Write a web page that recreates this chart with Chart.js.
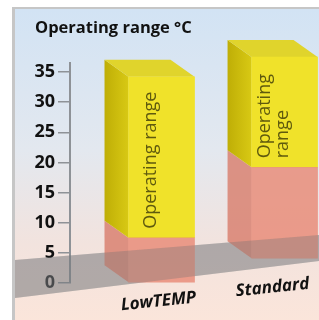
<!DOCTYPE html>
<html>
<head>
<meta charset="utf-8">
<script src="https://cdn.jsdelivr.net/npm/chart.js@4.4.1/dist/chart.umd.min.js"></script>
<style>
  html, body { margin: 0; padding: 0; background: #fff; overflow: hidden; }
  #frame {
    position: absolute; left: 12px; top: 7px; width: 307px; height: 313px;
    border-top: 2px solid #c6c6c6; border-left: 3px solid #c6c6c6;
    background: linear-gradient(to bottom, #d2e3f4 0%, #e3e8ef 45%, #f2e3de 75%, #fbe5da 100%);
  }
  #wrap { position: absolute; left: 0; top: 0; width: 319px; height: 320px; }
</style>
</head>
<body>
<div id="frame"></div>
<div id="wrap"><canvas id="chart" width="319" height="320"></canvas></div>
<script>
// values (°C)
const categories = ["LowTEMP", "Standard"];
const coldStart = [0, 4.1];
const rangeStart = [7.5, 19.2];
const rangeEnd = [34.2, 37.5];
const barText = [["Operating range"], ["Operating", "range"]];
const yTicks = [0, 5, 10, 15, 20, 25, 30, 35];

// 3d look
const dx = -24, dy = -17;
const labelShift = [-3, -12];

function face(ctx, pts, fill) {
  ctx.beginPath();
  ctx.moveTo(pts[0][0], pts[0][1]);
  for (let i = 1; i < pts.length; i++) ctx.lineTo(pts[i][0], pts[i][1]);
  ctx.closePath();
  ctx.fillStyle = fill;
  ctx.fill();
}

function floorEdges(chart) {
  const y0 = chart.scales.y.getPixelForValue(0);
  const x1 = 15, x2 = 319;
  return {
    x1, x2,
    top1: y0 - 23, top2: y0 - 48,
    bot1: y0 + 15, bot2: y0 - 22,
    bottomAt(x) { return this.bot1 + (this.bot2 - this.bot1) * (x - x1) / (x2 - x1); }
  };
}

function drawFloor(chart, color) {
  const f = floorEdges(chart);
  face(chart.ctx, [[f.x1, f.top1], [f.x2, f.top2], [f.x2, f.bot2], [f.x1, f.bot1]], color);
}

const boxPlugin = {
  id: "box3d",
  beforeDatasetsDraw(chart) {
    const ctx = chart.ctx;
    ctx.save();
    drawFloor(chart, "rgba(118,122,126,0.36)");

    chart.data.datasets.forEach((ds, di) => {
      chart.getDatasetMeta(di).data.forEach((bar) => {
        const p = bar.getProps(["x", "y", "base", "width"], true);
        const left = p.x - p.width / 2, right = p.x + p.width / 2;
        let side = ds.sideColor;
        if (Array.isArray(side)) {
          side = ctx.createLinearGradient(left + dx, 0, left, 0);
          side.addColorStop(0, ds.sideColor[0]);
          side.addColorStop(1, ds.sideColor[1]);
        }
        face(ctx, [[left, p.y], [left + dx, p.y + dy], [left + dx, p.base + dy], [left, p.base]], side);
        if (ds.topColor) {
          face(ctx, [[left, p.y], [right, p.y], [right + dx, p.y + dy], [left + dx, p.y + dy]], ds.topColor);
        }
      });
    });
    ctx.restore();
  },
  afterDatasetsDraw(chart) {
    const ctx = chart.ctx;
    const f = floorEdges(chart);
    ctx.save();
    drawFloor(chart, "rgba(118,122,126,0.3)");

    // text on the yellow boxes
    const meta = chart.getDatasetMeta(1);
    ctx.font = "18px 'Open Sans'";
    ctx.fillStyle = "#5f5a0e";
    ctx.textAlign = "left";
    ctx.textBaseline = "middle";
    meta.data.forEach((bar, i) => {
      const p = bar.getProps(["x", "base", "width"], true);
      const lines = barText[i];
      const mid = p.x - p.width / 2 + 22;
      lines.forEach((line, li) => {
        ctx.save();
        ctx.translate(mid + (li - (lines.length - 1) / 2) * 18, p.base - 9);
        ctx.rotate(-Math.PI / 2);
        ctx.fillText(line, 0, 0);
        ctx.restore();
      });
    });

    // category labels under the floor
    ctx.font = "italic bold 17px 'Open Sans'";
    ctx.fillStyle = "#111";
    ctx.textAlign = "center";
    meta.data.forEach((bar, i) => {
      const cx = bar.x + labelShift[i];
      ctx.save();
      ctx.translate(cx, f.bottomAt(cx) + 21);
      ctx.rotate(-6 * Math.PI / 180);
      ctx.fillText(categories[i], 0, 0);
      ctx.restore();
    });

    // title
    ctx.font = "bold 16.5px 'Open Sans'";
    ctx.textAlign = "left";
    ctx.textBaseline = "alphabetic";
    ctx.fillText("Operating range °C", 35, 33);
    ctx.restore();
  }
};

new Chart(document.getElementById("chart"), {
  type: "bar",
  data: {
    datasets: [
      {
        label: "Below range",
        data: categories.map((c, i) => ({ x: i + 1, y: [coldStart[i], rangeStart[i]] })),
        backgroundColor: "rgba(232,138,118,0.82)",
        sideColor: "rgba(216,126,108,0.82)",
        grouped: false,
        barThickness: 66,
        clip: false
      },
      {
        label: "Operating range",
        data: categories.map((c, i) => ({ x: i + 1, y: [rangeStart[i], rangeEnd[i]] })),
        backgroundColor: "#f0e22a",
        sideColor: ["#bfae06", "#d8c914"],
        topColor: "#e0d42c",
        grouped: false,
        barThickness: 66,
        clip: false
      }
    ]
  },
  options: {
    responsive: false,
    animation: false,
    layout: { padding: { left: 12, top: 63, right: 0, bottom: 37 } },
    plugins: { legend: { display: false }, tooltip: { enabled: false } },
    scales: {
      x: { type: "linear", min: 0.256, max: 2.28, offset: false, display: false },
      y: {
        min: 0,
        max: 36.5,
        afterBuildTicks: (scale) => { scale.ticks = yTicks.map(v => ({ value: v })); },
        afterFit: (scale) => { scale.width = 58; },
        border: { color: "#8e9297", width: 2 },
        grid: { drawOnChartArea: false, color: "#8e9297", lineWidth: 1.5, tickLength: 12 },
        ticks: { padding: 3, color: "#111", font: { family: "'Open Sans'", size: 18, weight: "bold" } }
      }
    }
  },
  plugins: [boxPlugin]
});
</script>
</body>
</html>
